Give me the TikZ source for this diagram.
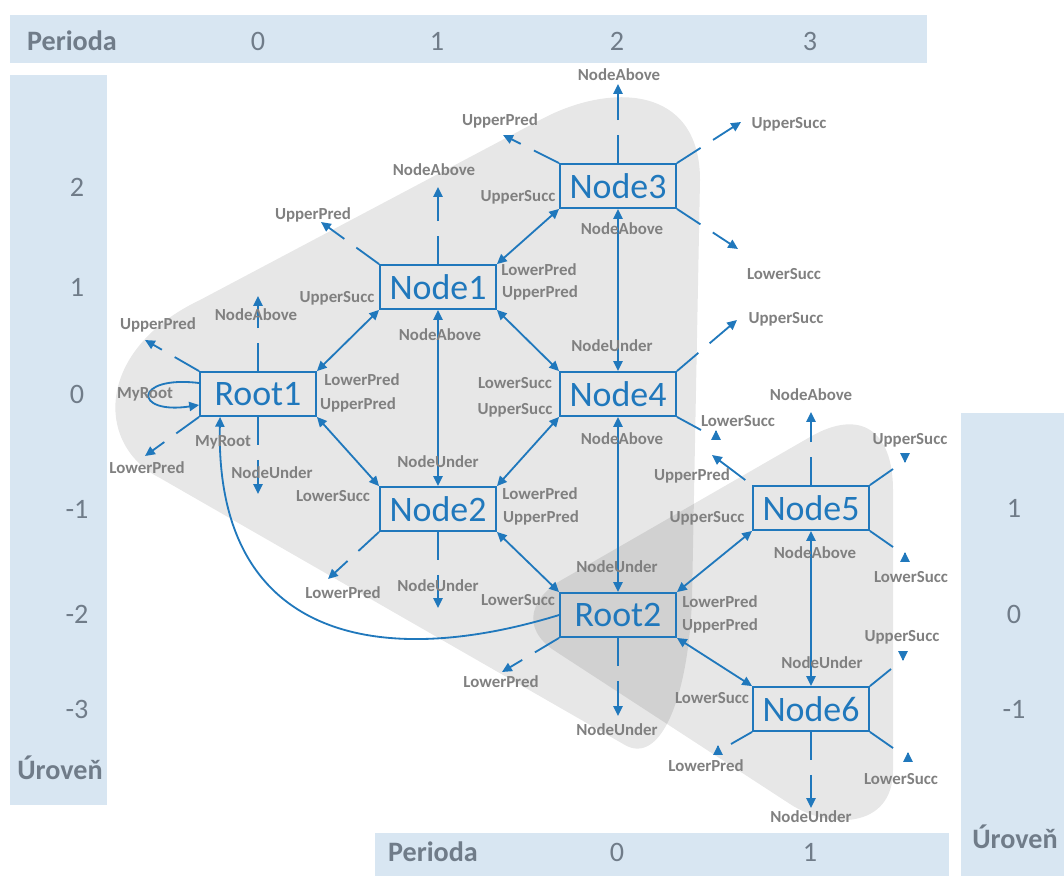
\documentclass[tikz,border=0pt]{standalone}
\usepackage{fontspec}
\setmainfont{Carlito}
\usetikzlibrary{arrows.meta,calc}
\definecolor{linkblue}{RGB}{32,120,188}
\definecolor{labelgray}{RGB}{128,128,128}
\definecolor{barblue}{RGB}{216,230,242}
\definecolor{bartext}{RGB}{112,124,137}

\tikzset{
  barfill/.style={fill=barblue, draw=none},
  bartxt/.style={text=bartext, font=\fontsize{20}{24}\selectfont},
  barhead/.style={text=bartext, font=\fontsize{20}{24}\selectfont\bfseries},
  blob/.style={fill=black, fill opacity=0.095, draw=none},
  statebox/.style={draw=linkblue, line width=1.3pt, text=linkblue, minimum width=2.9cm, minimum height=1.1cm, inner sep=0pt, font=\fontsize{25.5}{30}\selectfont},
  lbl/.style={text=labelgray, font=\fontsize{12}{14}\selectfont\bfseries, inner sep=1pt},
  link/.style={linkblue, line width=1.3pt, {Triangle[length=7pt,width=6.5pt]}-{Triangle[length=7pt,width=6.5pt]}},
  stub/.style={linkblue, line width=1.3pt, dash pattern=on 20pt off 10.5pt on 300pt, -{Triangle[length=7pt,width=6.5pt]}},
  stubline/.style={linkblue, line width=1.3pt},
  loosetip/.style={linkblue, line width=1.3pt, -{Triangle[length=7pt,width=6.5pt]}}
}

\begin{document}
\begin{tikzpicture}[x=0.025cm, y=-0.025cm]
  \useasboundingbox (0,0) rectangle (1064,876);

  % groups
  \fill[blob] (160,478) .. controls (95,445) and (95,350) .. (200,300) -- (540,120)
    .. controls (610,82) and (700,85) .. (700,180) -- (692,600)
    .. controls (688,700) and (660,765) .. (625,745) -- cycle;
  \fill[blob] (555,651) .. controls (520,628) and (530,597) .. (565,578) -- (810,437)
    .. controls (860,408) and (893,430) .. (893,490) -- (893,770)
    .. controls (893,830) and (828,829) .. (790,804) -- cycle;

  % axes
  \fill[barfill] (10,15) rectangle (927,63);
  \fill[barfill] (10,75) rectangle (107,805);
  \fill[barfill] (961,413) rectangle (1064,876);
  \fill[barfill] (375,833) rectangle (949,876);
  \node[barhead] (per-top) at (72,41) {Perioda};
  \node[barhead] (lev-left) at (60,768) {Úroveň};
  \node[barhead] (lev-right) at (1015,837) {Úroveň};
  \node[barhead] (per-bot) at (433,852) {Perioda};
  \foreach \nm/\x/\y/\txt in {pt0/258/41/0, pt1/437/41/1, pt2/617/41/2, pt3/810/41/3,
      ll2/77/187/2, ll1/77/287/1, ll0/77/394/0, llm1/77/509/-1, llm2/77/614/-2, llm3/77/709/-3,
      lr1/1014/508/1, lr0/1014/614/0, lrm1/1014/709/-1,
      pb0/617/852/0, pb1/810/852/1}
    \node[bartxt] (\nm) at (\x,\y) {\txt};

  % nodes
  \node[statebox] (r1) at (258,394) {Root1};
  \node[statebox] (n1) at (438,287) {Node1};
  \node[statebox] (n2) at (438,509) {Node2};
  \node[statebox] (n3) at (618,186) {Node3};
  \node[statebox] (n4) at (618,394) {Node4};
  \node[statebox] (r2) at (618,615) {Root2};
  \node[statebox] (n5) at (811,508) {Node5};
  \node[statebox] (n6) at (811,709) {Node6};

  % links
  \draw[link] (r1.north east) -- (n1.south west);
  \draw[link] (r1.south east) -- (n2.north west);
  \draw[link] (n1.north east) -- (n3.south west);
  \draw[link] (n1.south east) -- (n4.north west);
  \draw[link] (n1.south) -- (n2.north);
  \draw[link] (n2.north east) -- (n4.south west);
  \draw[link] (n2.south east) -- (r2.north west);
  \draw[link] (n3.south) -- (n4.north);
  \draw[link] (n4.south) -- (r2.north);
  \draw[link] (r2.north east) -- (n5.south west);
  \draw[link] (r2.south east) -- (n6.north west);
  \draw[link] (n5.south) -- (n6.north);

  % open ends
  \foreach \src/\nm/\x/\y in {r1.north west/r1-up/145/340, r1.south west/r1-lp/145/456,
      r1.north/r1-na/258/296, r1.south/r1-nu/258/494,
      n1.north west/n1-up/321/222, n1.north/n1-na/438/187,
      n2.south west/n2-lp/328/579, n2.south/n2-nu/438/608,
      n3.north west/n3-up/503/135, n3.north/n3-na/618/84,
      n3.north east/n3-us/741/122, n3.south east/n3-ls/738/249,
      n4.north east/n4-us/737/320,
      n5.north/n5-na/811/412,
      r2.south west/r2-lp/502/672, r2.south/r2-nu/618/716,
      n6.south/n6-nu/811/808} {
    \coordinate (\nm) at (\x,\y);
    \draw[stub] (\src) -- (\nm);
  }
  \coordinate (n5-up) at (712,455);
  \draw[loosetip, shorten <=6pt] (n5.north west) -- (n5-up);

  % cut ends with a loose tip
  \foreach \src/\nm/\x/\y/\tx/\ty/\dir in {n4.south east/n4-ls/701/430/716/430/1,
      n5.north east/n5-us/893/469/905/463/-1, n5.south east/n5-ls/893/547/905/552/1,
      n6.north east/n6-us/891/669/903/661/-1, n6.south east/n6-ls/893/748/908/752/1,
      n6.south west/n6-lp/731/744/718/745/1} {
    \coordinate (\nm) at (\x,\y);
    \coordinate (\nm-tip) at (\tx,\ty);
    \draw[stubline] (\src) -- (\nm);
    \draw[loosetip] ($(\nm-tip)+(0,\dir)$) -- (\nm-tip);
  }

  % roots
  \draw[loosetip] ($(r1.west)+(0,-11)$) .. controls (133,375) and (133,415) .. ($(r1.west)+(0,11)$);
  \draw[loosetip] (r2.west) .. controls (380,670) and (215,640) .. ($(r1.south west)+(21,0)$);

  % labels
  \foreach \nm/\x/\y/\txt in {
      a1/158/325/UpperPred, a2/145/394/MyRoot, a3/147/468/LowerPred, a4/256/315/NodeAbove,
      a5/223/442/MyRoot, a6/272/473/NodeUnder, a7/362/380/LowerPred, a8/358/405/UpperPred,
      a9/333/496/LowerSucc, a10/337/298/UpperSucc,
      b1/313/215/UpperPred, b2/434/170/NodeAbove, b3/539/270/LowerPred, b4/540/293/UpperPred,
      b5/440/335/NodeAbove,
      c1/438/462/NodeUnder, c2/540/494/LowerPred, c3/541/518/UpperPred, c4/343/593/LowerPred,
      c5/438/586/NodeUnder,
      d1/619/75/NodeAbove, d2/500/121/UpperPred, d3/518/197/UpperSucc, d4/789/124/UpperSucc,
      d5/622/229/NodeAbove, d6/784/274/LowerSucc,
      e1/612/346/NodeUnder, e2/786/319/UpperSucc, e3/515/383/LowerSucc, e4/515/410/UpperSucc,
      e5/622/439/NodeAbove, e6/738/421/LowerSucc,
      f1/617/567/NodeUnder, f2/518/600/LowerSucc, f3/720/602/LowerPred, f4/720/626/UpperPred,
      f5/501/682/LowerPred, f6/617/730/NodeUnder,
      g1/811/395/NodeAbove, g2/692/476/UpperPred, g3/707/518/UpperSucc, g4/910/440/UpperSucc,
      g5/815/553/NodeAbove, g6/911/577/LowerSucc,
      h1/822/663/NodeUnder, h2/902/637/UpperSucc, h3/712/698/LowerSucc, h4/706/766/LowerPred,
      h5/901/779/LowerSucc, h6/811/817/NodeUnder}
    \node[lbl] (\nm) at (\x,\y) {\txt};

\end{tikzpicture}
\end{document}
